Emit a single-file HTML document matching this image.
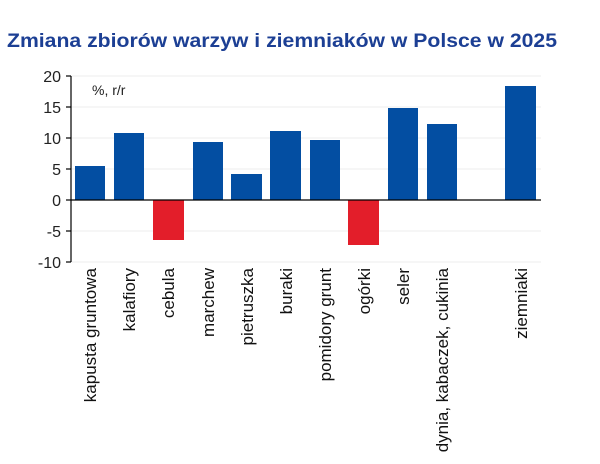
<!DOCTYPE html>
<html><head><meta charset="utf-8"><style>
body{margin:0;background:#fff;}
svg{display:block;font-family:"Liberation Sans","DejaVu Sans",sans-serif;}
</style></head><body>
<svg width="600" height="464" viewBox="0 0 600 464">
<text x="7" y="47" font-size="19" font-weight="bold" fill="#1c3f94" textLength="550" lengthAdjust="spacingAndGlyphs">Zmiana zbiorów warzyw i ziemniaków w Polsce w 2025</text>
<g stroke="#ececec" stroke-width="1">
<line x1="71" x2="541" y1="76" y2="76"/><line x1="71" x2="541" y1="107" y2="107"/>
<line x1="71" x2="541" y1="138" y2="138"/><line x1="71" x2="541" y1="169" y2="169"/>
<line x1="71" x2="541" y1="231" y2="231"/><line x1="71" x2="541" y1="262" y2="262"/>
</g>
<g fill="#034ea2">
<rect x="75" y="166" width="30" height="34"/>
<rect x="114" y="133" width="30" height="67"/>
<rect x="193" y="142" width="30" height="58"/>
<rect x="231" y="174" width="31" height="26"/>
<rect x="270" y="131" width="31" height="69"/>
<rect x="310" y="140" width="30" height="60"/>
<rect x="388" y="108" width="30" height="92"/>
<rect x="427" y="124" width="30" height="76"/>
<rect x="505" y="86" width="31" height="114"/>
</g>
<g fill="#e31e2a">
<rect x="153" y="200" width="31" height="40"/>
<rect x="348" y="200" width="31" height="45"/>
</g>
<line x1="71" x2="541" y1="200" y2="200" stroke="#000" stroke-width="1.2"/>
<line x1="71" x2="71" y1="76" y2="262" stroke="#000" stroke-width="1.2"/>
<g stroke="#000" stroke-width="1.2">
<line x1="66" x2="71" y1="76" y2="76"/><line x1="66" x2="71" y1="107" y2="107"/><line x1="66" x2="71" y1="138" y2="138"/>
<line x1="66" x2="71" y1="169" y2="169"/><line x1="66" x2="71" y1="200" y2="200"/><line x1="66" x2="71" y1="231" y2="231"/><line x1="66" x2="71" y1="262" y2="262"/>
</g>
<g font-size="16" fill="#222" text-anchor="end">
<text x="61" y="82">20</text><text x="61" y="113">15</text><text x="61" y="144">10</text><text x="61" y="175">5</text>
<text x="61" y="206">0</text><text x="61" y="237">-5</text><text x="61" y="268">-10</text>
</g>
<text x="92" y="95" font-size="14" fill="#222">%, r/r</text>
<g font-size="17" fill="#111" text-anchor="end">
<text transform="translate(96,268) rotate(-90)">kapusta gruntowa</text>
<text transform="translate(135,268) rotate(-90)">kalafiory</text>
<text transform="translate(174,268) rotate(-90)">cebula</text>
<text transform="translate(214,268) rotate(-90)">marchew</text>
<text transform="translate(253,268) rotate(-90)">pietruszka</text>
<text transform="translate(292,268) rotate(-90)">buraki</text>
<text transform="translate(331,268) rotate(-90)">pomidory grunt</text>
<text transform="translate(370,268) rotate(-90)">ogórki</text>
<text transform="translate(409,268) rotate(-90)">seler</text>
<text transform="translate(448,268) rotate(-90)">dynia, kabaczek, cukinia</text>
<text transform="translate(527,268) rotate(-90)">ziemniaki</text>
</g>
</svg>
</body></html>
